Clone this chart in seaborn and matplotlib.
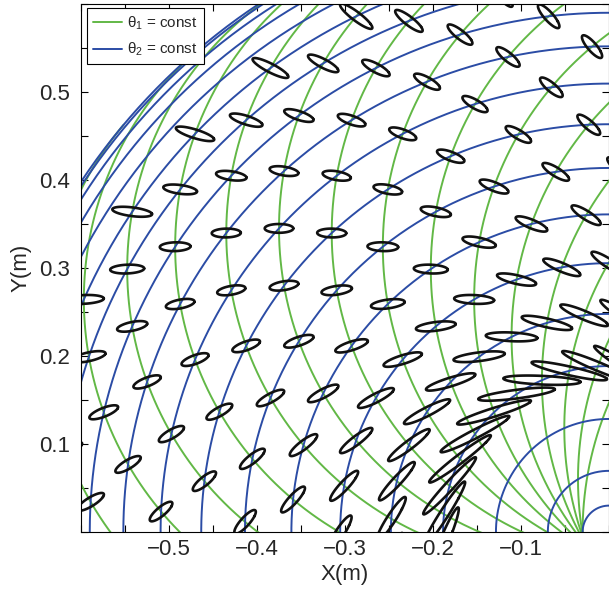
"""Curvas de theta1 / theta2 constantes y elipses de inercia de un brazo de dos eslabones."""

import matplotlib

matplotlib.use("Agg")

import matplotlib.pyplot as plt
import numpy as np
import pandas as pd
import seaborn as sns
from matplotlib.lines import Line2D
from matplotlib.ticker import MultipleLocator, FixedLocator

# ---------------------------------------------------------------------------
# Paleta
# ---------------------------------------------------------------------------
VERDE = "#62b846"
AZUL = "#2b4ca5"
NEGRO = "#111111"

# ---------------------------------------------------------------------------
# Datos
# ---------------------------------------------------------------------------
# longitudes de los eslabones (m)
L1 = 0.345
L2 = 0.375

# ángulos de las curvas dibujadas (grados)
THETA1_CURVAS = [0, 10, 20, 30, 40, 50, 60, 70, 80, 90, 100, 110, 120, 130, 140, 150, 160, 170, 180]
THETA2_CURVAS = [0, 10, 20, 30, 40, 50, 60, 70, 80, 90, 100, 110, 120, 130, 140, 150, 160, 170, 180]

# nodos de la malla con elipse (grados)
THETA1_ELIPSES = [0, 10, 20, 30, 40, 50, 60, 70, 80, 90, 100, 110, 120, 130, 140, 150, 160, 170, 180]
THETA2_ELIPSES = [50, 60, 70, 80, 90, 100, 110, 120, 130, 140, 150]

# parámetros inerciales de los segmentos: brazo, antebrazo
MASAS = [1.93, 1.52]          # kg
CENTROS_MASA = [0.165, 0.19]  # m desde la articulación proximal
INERCIAS = [0.0141, 0.035]    # kg m^2 respecto al centro de masas
ESCALA_ELIPSE = 0.0078        # m por kg

MARCAS_X = [-0.5, -0.4, -0.3, -0.2, -0.1]
MARCAS_Y = [0.1, 0.2, 0.3, 0.4, 0.5]


# ---------------------------------------------------------------------------
# Cinemática y dinámica
# ---------------------------------------------------------------------------
def posicion(t1, t2):
    x = L1 * np.cos(t1) + L2 * np.cos(t1 + t2)
    y = L1 * np.sin(t1) + L2 * np.sin(t1 + t2)
    return x, y


def jacobiano(t1, t2):
    s1, c1 = np.sin(t1), np.cos(t1)
    s12, c12 = np.sin(t1 + t2), np.cos(t1 + t2)
    return np.array([[-L1 * s1 - L2 * s12, -L2 * s12],
                     [L1 * c1 + L2 * c12, L2 * c12]])


def matriz_masas(t2):
    m1, m2 = MASAS
    lc1, lc2 = CENTROS_MASA
    i1, i2 = INERCIAS
    c2 = np.cos(t2)
    m11 = i1 + i2 + m1 * lc1**2 + m2 * (L1**2 + lc2**2 + 2 * L1 * lc2 * c2)
    m12 = i2 + m2 * (lc2**2 + L1 * lc2 * c2)
    m22 = i2 + m2 * lc2**2
    return np.array([[m11, m12], [m12, m22]])


def inercia_extremo(t1, t2):
    """Inercia aparente en el extremo: (J M^-1 J^T)^-1."""
    j = jacobiano(t1, t2)
    movilidad = j @ np.linalg.inv(matriz_masas(t2)) @ j.T
    return np.linalg.inv(movilidad)


# ---------------------------------------------------------------------------
# Tablas para seaborn
# ---------------------------------------------------------------------------
barrido_t2 = np.linspace(0, np.pi, 400)
barrido_t1 = np.linspace(-np.pi, np.pi, 900)
circulo = np.linspace(0, 2 * np.pi, 120)

filas = []
for k, a in enumerate(THETA1_CURVAS):
    x, y = posicion(np.radians(a), barrido_t2)
    filas.append(pd.DataFrame({"x": x, "y": y, "curva": k}))
df_theta1 = pd.concat(filas, ignore_index=True)

filas = []
for k, b in enumerate(THETA2_CURVAS):
    x, y = posicion(barrido_t1, np.radians(b))
    filas.append(pd.DataFrame({"x": x, "y": y, "curva": k}))
df_theta2 = pd.concat(filas, ignore_index=True)

filas = []
k = 0
for a in THETA1_ELIPSES:
    for b in THETA2_ELIPSES:
        t1, t2 = np.radians(a), np.radians(b)
        x0, y0 = posicion(t1, t2)
        borde = ESCALA_ELIPSE * inercia_extremo(t1, t2) @ np.vstack([np.cos(circulo), np.sin(circulo)])
        filas.append(pd.DataFrame({"x": x0 + borde[0], "y": y0 + borde[1], "curva": k}))
        k += 1
df_elipses = pd.concat(filas, ignore_index=True)

# ---------------------------------------------------------------------------
# Figura
# ---------------------------------------------------------------------------
sns.set_style("ticks")
plt.rcParams.update({
    "font.family": ["Liberation Sans", "DejaVu Sans"],
    "mathtext.fontset": "custom",
    "mathtext.rm": "Liberation Sans",
    "mathtext.default": "regular",
    "axes.edgecolor": "black",
    "axes.linewidth": 0.8,
})

fig = plt.figure(figsize=(6.09, 5.95), dpi=100)
ax = fig.add_axes([81 / 609, 63 / 595, 528 / 609, 528 / 595])

sns.lineplot(data=df_theta1, x="x", y="y", units="curva", estimator=None, sort=False,
             color=VERDE, linewidth=1.4, ax=ax, legend=False)
sns.lineplot(data=df_theta2, x="x", y="y", units="curva", estimator=None, sort=False,
             color=AZUL, linewidth=1.4, ax=ax, legend=False)
sns.lineplot(data=df_elipses, x="x", y="y", units="curva", estimator=None, sort=False,
             color=NEGRO, linewidth=1.9, ax=ax, legend=False)

ax.set_xlim(-0.6, 0)
ax.set_ylim(0, 0.6)
ax.xaxis.set_major_locator(FixedLocator(MARCAS_X))
ax.yaxis.set_major_locator(FixedLocator(MARCAS_Y))
ax.xaxis.set_minor_locator(MultipleLocator(0.05))
ax.yaxis.set_minor_locator(MultipleLocator(0.05))
ax.set_xticklabels([f"{v:.1f}".replace("-", "\u2212") for v in MARCAS_X])
ax.set_yticklabels([f"{v:.1f}" for v in MARCAS_Y])
ax.tick_params(which="both", direction="in", top=True, right=True, length=5, width=0.8,
               color="black")
ax.tick_params(axis="x", labelsize=16, pad=5)
ax.tick_params(axis="y", labelsize=16, pad=8)
ax.set_xlabel("X(m)", fontsize=16, labelpad=3)
ax.set_ylabel("Y(m)", fontsize=16, labelpad=5)

manejadores = [Line2D([], [], color=VERDE, linewidth=1.4),
               Line2D([], [], color=AZUL, linewidth=1.4)]
leyenda = ax.legend(manejadores, ["θ$_1$ = const", "θ$_2$ = const"],
                    loc="upper left", bbox_to_anchor=(0.011, 0.992), borderaxespad=0,
                    fontsize=11, frameon=True, fancybox=False, framealpha=1,
                    edgecolor="black", handlelength=1.9, handletextpad=0.35,
                    labelspacing=0.6, borderpad=0.4)
leyenda.get_frame().set_linewidth(0.8)

fig.savefig("out.png", dpi=100)
